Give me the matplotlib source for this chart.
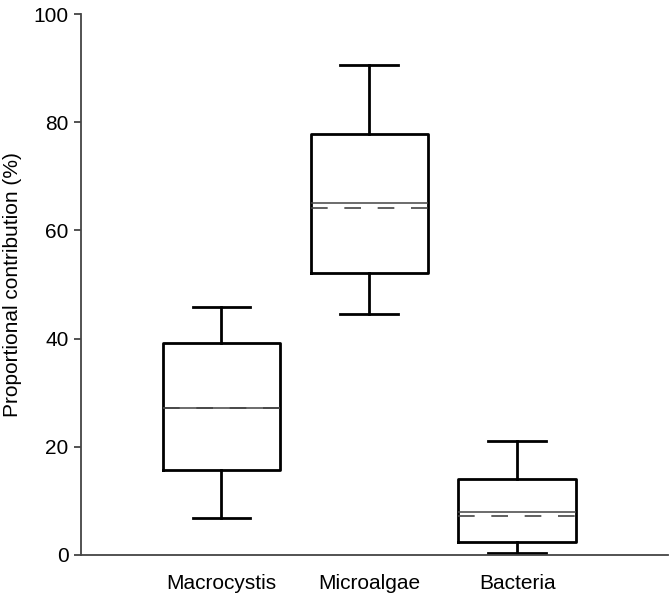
import matplotlib
matplotlib.use("Agg")
import matplotlib.pyplot as plt

plt.rcParams['font.family'] = ['Liberation Sans', 'DejaVu Sans']
plt.rcParams['font.size'] = 15

groups = ["Macrocystis", "Microalgae", "Bacteria"]
whislo = [6.8, 44.5, 0.3]
q1 = [15.7, 52.1, 2.4]
med = [27.1, 65.0, 8.0]
mean = [27.1, 64.1, 7.2]
q3 = [39.2, 77.9, 14.0]
whishi = [45.8, 90.6, 21.1]

stats = []
for i in range(len(groups)):
    stats.append({"label": groups[i], "whislo": whislo[i], "q1": q1[i], "med": med[i],
                  "mean": mean[i], "q3": q3[i], "whishi": whishi[i], "fliers": []})

fig = plt.figure(figsize=(6.72, 5.98), dpi=100)
ax = fig.add_axes([81 / 672, 1 - 555 / 598, 587 / 672, 541 / 598])

ax.bxp(stats, positions=[1, 2, 3], widths=0.795, showmeans=True, meanline=True,
       boxprops=dict(color='black', lw=2),
       whiskerprops=dict(color='black', lw=2),
       capprops=dict(color='black', lw=2),
       capwidths=0.39,
       medianprops=dict(color='#444444', lw=1.1, zorder=4),
       meanprops=dict(color='#444444', lw=1.2, ls=(0, (10, 10)), zorder=3))

ax.set_xlim(0.05, 4.02)
ax.set_ylim(0, 100)
ax.set_yticks([0, 20, 40, 60, 80, 100])
ax.spines['top'].set_visible(False)
ax.spines['right'].set_visible(False)
ax.spines['left'].set_color('#444444')
ax.spines['bottom'].set_color('#444444')
ax.spines['left'].set_linewidth(1.3)
ax.spines['bottom'].set_linewidth(1.3)
ax.tick_params(axis='x', length=0, pad=14)
ax.tick_params(axis='y', length=5, width=1.3, color='#444444', pad=4)
ax.set_ylabel("Proportional contribution (%)", labelpad=8)

fig.savefig("out.png", dpi=100)
